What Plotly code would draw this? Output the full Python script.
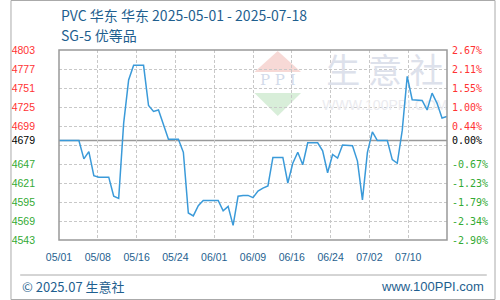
import plotly.graph_objects as go

# ---------------- data ----------------
title_line1 = "PVC 华东 华东 2025-05-01 - 2025-07-18"
title_line2 = "SG-5 优等品"
footer_left = "© 2025.07 生意社"
footer_right = "www.100PPI.com"

# daily price, 2025-05-01 .. 2025-07-18
prices = [
    4679, 4679, 4679, 4679, 4679, 4654, 4664, 4631, 4629, 4629,
    4629, 4603, 4600, 4703, 4762, 4782, 4782, 4782, 4727, 4719,
    4721, 4700, 4681, 4681, 4681, 4663, 4580, 4576, 4590, 4597,
    4597, 4597, 4597, 4583, 4589, 4563, 4603, 4604, 4604, 4601,
    4610, 4614, 4617, 4656, 4656, 4656, 4621, 4648, 4663, 4646,
    4676, 4676, 4676, 4665, 4635, 4660, 4655, 4673, 4673, 4672,
    4651, 4598, 4663, 4691, 4679, 4679, 4679, 4653, 4648, 4693,
    4767, 4735, 4734, 4734, 4721, 4744, 4730, 4710, 4712,
]
x_tick_labels = ["05/01", "05/08", "05/16", "05/24", "06/01",
                 "06/09", "06/16", "06/24", "07/02", "07/10"]
left_tick_values = [4803, 4777, 4751, 4725, 4699, 4679, 4647, 4621, 4595, 4569, 4543]
right_tick_labels = ["2.67%", "2.11%", "1.55%", "1.00%", "0.44%", "0.00%",
                     "-0.67%", "-1.23%", "-1.79%", "-2.34%", "-2.90%"]
base_price = 4679
y_min, y_max, grid_step = 4543, 4803, 26

# ---------------- styling / geometry ----------------
W, H = 500, 300
L, R, T, B = 50, 50, 50, 60
PW, PH = W - L - R, H - T - B
n_days = len(prices) - 1
days = list(range(len(prices)))
x_tickvals = [i * n_days / len(x_tick_labels) for i in range(len(x_tick_labels))]

RED, GREEN, BLACK = "#ff3333", "#33aa33", "#000000"
BLUE_TEXT = "#1f5f8f"
LINE = "#3a9ad9"
GRID = "#c8c8c8"
BORDER = "#999999"


def px(x):
    return (x - L) / PW


def py(y):
    return (H - B - y) / PH


def dx(x):
    return (x - L) / PW * n_days


def dy(y):
    return y_min + (H - B - y) / PH * (y_max - y_min)


def col(v):
    return RED if v > base_price else (BLACK if v == base_price else GREEN)


left_text = [f'<span style="color:{col(v)}">{v}</span>' for v in left_tick_values]
right_text = [f'<span style="color:{col(v)}">{t}</span>'
              for v, t in zip(left_tick_values, right_tick_labels)]

fig = go.Figure()

# watermark (drawn beneath the price line)
fig.add_trace(go.Scatter(
    x=[dx(386), dx(386), dx(275.5)], y=[dy(74), dy(106.5), dy(81)],
    mode="text",
    text=["生 意 社", "WWW.100PPI.COM", "P P I"],
    textfont=dict(size=[34, 14, 15], color=["#dde1eb", "#ebebef", "#d3dbea"],
                  family=["Noto Sans CJK SC", "Liberation Sans", "DejaVu Serif"]),
    hoverinfo="skip", showlegend=False, cliponaxis=False,
))

fig.add_trace(go.Scatter(
    x=days, y=prices, mode="lines",
    line=dict(color=LINE, width=1.5),
    hoverinfo="skip", showlegend=False,
))
fig.add_trace(go.Scatter(x=[], y=[], yaxis="y2", showlegend=False))
fig.add_trace(go.Scatter(x=[], y=[], yaxis="y3", showlegend=False))

tick_font = dict(family="Liberation Sans", size=10.5)

fig.update_layout(
    width=W, height=H,
    margin=dict(l=L, r=R, t=T, b=B, pad=0),
    paper_bgcolor="white", plot_bgcolor="white",
    showlegend=False,
    xaxis=dict(
        range=[0, n_days], tickmode="array", tickvals=x_tickvals, ticktext=x_tick_labels,
        showgrid=True, gridcolor=GRID, griddash="3px,2px", gridwidth=1,
        zeroline=False, showline=False, ticks="",
        tickfont=dict(family="Liberation Sans", size=10.5, color=BLUE_TEXT),
        ticklabelstandoff=9, fixedrange=True,
    ),
    yaxis=dict(
        range=[y_min, y_max], tickmode="array", tickvals=left_tick_values, ticktext=left_text,
        showgrid=False, zeroline=False, showline=False, ticks="",
        tickfont=tick_font, ticklabelstandoff=23,
    ),
    yaxis2=dict(
        range=[y_min, y_max], overlaying="y", side="right",
        tickmode="array", tickvals=left_tick_values, ticktext=right_text,
        showgrid=False, zeroline=False, showline=False, ticks="",
        tickfont=dict(family="DejaVu Sans Mono", size=10), ticklabelstandoff=4,
    ),
    yaxis3=dict(
        range=[y_min, y_max], overlaying="y", side="left",
        tickmode="linear", tick0=y_min, dtick=grid_step,
        showticklabels=False, showgrid=True, gridcolor=GRID, griddash="3px,2px", gridwidth=1,
        zeroline=False, showline=False, ticks="",
    ),
)

shapes = [
    # logo triangles
    dict(type="path", xref="paper", yref="paper", layer="below",
         path=f"M {px(275.5)} {py(51)} L {px(251.5)} {py(72)} L {px(299.5)} {py(72)} Z",
         fillcolor="#f7d9d6", line=dict(width=0)),
    dict(type="path", xref="paper", yref="paper", layer="below",
         path=f"M {px(251.5)} {py(93)} L {px(299.5)} {py(93)} L {px(275.5)} {py(116)} Z",
         fillcolor="#d8eed9", line=dict(width=0)),
    # baseline
    dict(type="line", xref="paper", yref="y", x0=0, x1=1, y0=base_price, y1=base_price,
         line=dict(color=BORDER, width=1.5), layer="between"),
    # plot border
    dict(type="rect", xref="paper", yref="paper", x0=0, x1=1, y0=0, y1=1,
         line=dict(color=BORDER, width=1.5), layer="above"),
    # footer separator
    dict(type="line", xref="paper", yref="paper", x0=px(10), x1=px(491), y0=py(275), y1=py(275),
         line=dict(color="#aaaaaa", width=1)),
    # outer frame
    dict(type="rect", xref="paper", yref="paper", x0=px(0.5), x1=px(499.5), y0=py(0.5), y1=py(299.5),
         line=dict(color="#aaaaaa", width=1)),
]
fig.update_layout(shapes=shapes)

ann_font = "Noto Sans CJK SC"
fig.update_layout(annotations=[
    dict(text=title_line1, x=px(50), y=py(15), xref="paper", yref="paper",
         xanchor="left", yanchor="middle", showarrow=False,
         font=dict(family=ann_font, size=14, color=BLUE_TEXT)),
    dict(text=title_line2, x=px(50), y=py(35), xref="paper", yref="paper",
         xanchor="left", yanchor="middle", showarrow=False,
         font=dict(family=ann_font, size=14, color=BLUE_TEXT)),
    dict(text=footer_left, x=px(10), y=py(286), xref="paper", yref="paper",
         xanchor="left", yanchor="middle", showarrow=False,
         font=dict(family=ann_font, size=13, color=BLUE_TEXT)),
    dict(text=footer_right, x=px(490), y=py(286), xref="paper", yref="paper",
         xanchor="right", yanchor="middle", showarrow=False,
         font=dict(family="Liberation Sans", size=13, color=BLUE_TEXT)),
])

fig.write_html("out.html")
